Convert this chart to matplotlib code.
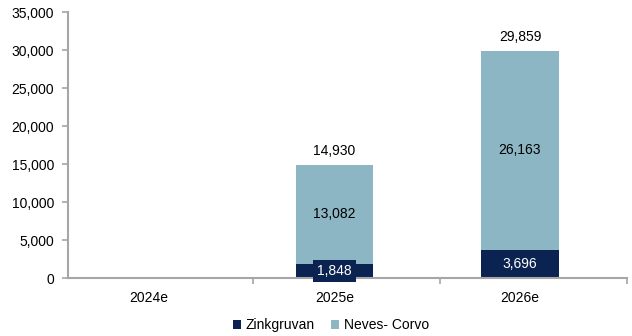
import matplotlib.pyplot as plt
from matplotlib.ticker import FuncFormatter, FixedLocator

plt.rcParams['font.family'] = ['Liberation Sans', 'DejaVu Sans']

years = ['2024e', '2025e', '2026e']
zinkgruvan = [0, 1848, 3696]
neves_corvo = [0, 13082, 26163]
totals = [0, 14930, 29859]

navy = '#0b2350'
light = '#8db6c5'
grey = '#a6a6a6'
fs = 10

fig = plt.figure(figsize=(6.32, 3.36), dpi=100)
ax = fig.add_axes([68 / 632, (336 - 278) / 336, (627 - 68) / 632, (278 - 12) / 336])

x = range(len(years))
width = 0.42
ax.bar(x, zinkgruvan, width, color=navy, label='Zinkgruvan')
ax.bar(x, neves_corvo, width, bottom=zinkgruvan, color=light, label='Neves- Corvo')

for i in x:
    if totals[i] == 0:
        continue
    ax.text(i, totals[i] + 900, f'{totals[i]:,}', ha='center', va='bottom', fontsize=fs)
    ax.text(i, zinkgruvan[i] + neves_corvo[i] / 2, f'{neves_corvo[i]:,}',
            ha='center', va='center', fontsize=fs)
    box = dict(boxstyle='square,pad=0.3', fc=navy, ec='none') if i == 1 else None
    ax.text(i, zinkgruvan[i] / 2, f'{zinkgruvan[i]:,}', ha='center', va='center',
            fontsize=fs, color='white', bbox=box)

ax.set_xlim(-0.437, 2.577)
ax.set_ylim(0, 35000)
ax.set_yticks(range(0, 35001, 5000))
ax.yaxis.set_major_formatter(FuncFormatter(lambda v, p: f'{int(v):,}'))
ax.set_xticks(list(x))
ax.set_xticklabels(years)
ax.xaxis.set_minor_locator(FixedLocator([0.561, 1.569, 2.577]))
ax.tick_params(axis='x', which='major', length=0, pad=9, labelsize=fs)
ax.tick_params(axis='x', which='minor', length=4, color=grey, width=1.2)
ax.tick_params(axis='y', length=4, color=grey, width=1.2, labelsize=fs, pad=6)

for side in ['top', 'right']:
    ax.spines[side].set_visible(False)
for side in ['left', 'bottom']:
    ax.spines[side].set_color(grey)
    ax.spines[side].set_linewidth(1.5)

ax.legend(loc='upper center', bbox_to_anchor=(0.47, -0.105), ncol=2, frameon=False,
          fontsize=fs, handlelength=0.6, handleheight=0.6, handletextpad=0.3,
          columnspacing=1.2)

fig.savefig('out.png', dpi=100)
